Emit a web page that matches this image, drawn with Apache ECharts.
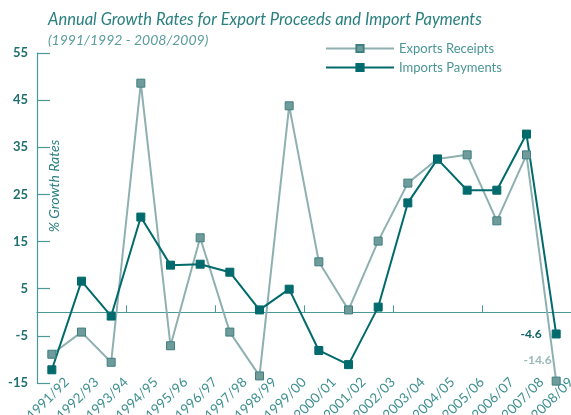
<!DOCTYPE html>
<html>
<head>
<meta charset="utf-8">
<script src="https://cdn.jsdelivr.net/npm/echarts@6/dist/echarts.min.js"></script>
<style>html,body{margin:0;padding:0;background:#fff}#c{width:571px;height:415px}</style>
</head>
<body>
<div id="c"></div>
<script>
const categories = ['1991/92','1992/93','1993/94','1994/95','1995/96','1996/97','1997/98','1998/99','1999/00','2000/01','2001/02','2002/03','2003/04','2004/05','2005/06','2006/07','2007/08','2008/09'];
const exportsReceipts = [-8.9,-4.2,-10.6,48.6,-7.1,15.8,-4.2,-13.5,43.8,10.7,0.5,15.1,27.4,32.5,33.4,19.4,33.4,-14.6];
const importsPayments = [-12.2,6.6,-0.8,20.2,10.0,10.2,8.5,0.5,4.9,-8.1,-11.1,1.1,23.2,32.5,25.9,25.9,37.8,-4.6];
const yTicks = {min:-15, max:55, interval:10};

const FONT = 'Lato';
const expLine = '#8fb0b0', expFill = '#6f9b9b', expBorder = '#3f7f80';
const impColor = '#006a6c';
const axisColor = '#4b9898';

const chart = echarts.init(document.getElementById('c'));
const lastIdx = categories.length - 1;
function withLast(arr, label) {
  return arr.map((v,i)=> i===lastIdx ? {value:v, label:label} : v);
}
chart.setOption({
  animation:false,
  textStyle:{fontFamily:FONT},
  title:[
    {text:'Annual Growth Rates for Export Proceeds and Import Payments', left:43, top:6,
     textStyle:{fontFamily:FONT, fontStyle:'italic', fontWeight:'normal', fontSize:16.5, color:'#2a8080'}},
    {text:'(1991/1992 - 2008/2009)', left:43, top:28,
     textStyle:{fontFamily:FONT, fontStyle:'italic', fontWeight:'normal', fontSize:14, color:'#5a9c9c'}}
  ],
  legend:{
    orient:'vertical', left:320, top:37, itemGap:6, itemWidth:68, itemHeight:9,
    textStyle:{fontFamily:FONT, fontSize:13, color:'#4c9696'},
    data:['Exports Receipts','Imports Payments']
  },
  grid:{left:37, right:0, top:53, bottom:32, containLabel:false, outerBoundsMode:'none'},
  xAxis:[
    {type:'category', data:categories, boundaryGap:true,
     axisLine:{onZero:true, lineStyle:{color:axisColor, width:1.2}},
     axisTick:{show:true, inside:true, length:7, lineStyle:{color:axisColor}},
     axisLabel:{show:false}, splitLine:{show:false}},
    {type:'category', data:[''].concat(categories), boundaryGap:false, position:'bottom',
     axisLine:{show:false, onZero:false}, axisTick:{show:false},
     axisLabel:{show:true, interval:0, rotate:45, margin:-3, fontFamily:FONT, fontSize:13.5, color:'#3f9090', hideOverlap:false},
     splitLine:{show:false}}
  ],
  yAxis:{type:'value', min:yTicks.min, max:yTicks.max, interval:yTicks.interval,
    axisLine:{show:true, lineStyle:{color:axisColor, width:1.2}},
    axisTick:{show:true, inside:true, length:13, lineStyle:{color:axisColor, width:1.2}},
    axisLabel:{margin:9, fontFamily:FONT, fontSize:13, fontWeight:'bold', color:'#1f6e70'},
    splitLine:{show:false}},
  graphic:[
    {type:'text', x:54, y:186, rotation:Math.PI/2, style:{text:'% Growth Rates', fontFamily:FONT, fontStyle:'italic', fontSize:14, fill:'#2a8080', align:'center', verticalAlign:'middle'}}
  ],
  series:[
    {name:'Exports Receipts', type:'line', xAxisIndex:0,
     data:withLast(exportsReceipts,{show:true, position:'left', distance:4, offset:[4,-21], formatter:'{c}', fontFamily:FONT, fontSize:12, fontWeight:'bold', color:'#9ab8b8'}),
     symbol:'rect', symbolSize:8,
     lineStyle:{color:expLine, width:2},
     itemStyle:{color:expFill, borderColor:expBorder, borderWidth:1}},
    {name:'Imports Payments', type:'line', xAxisIndex:0,
     data:withLast(importsPayments,{show:true, position:'left', distance:10, formatter:'{c}', fontFamily:FONT, fontSize:12, fontWeight:'bold', color:'#0e6062'}),
     symbol:'rect', symbolSize:8,
     lineStyle:{color:impColor, width:2},
     itemStyle:{color:impColor, borderColor:impColor, borderWidth:1}}
  ]
});
</script>
</body>
</html>
